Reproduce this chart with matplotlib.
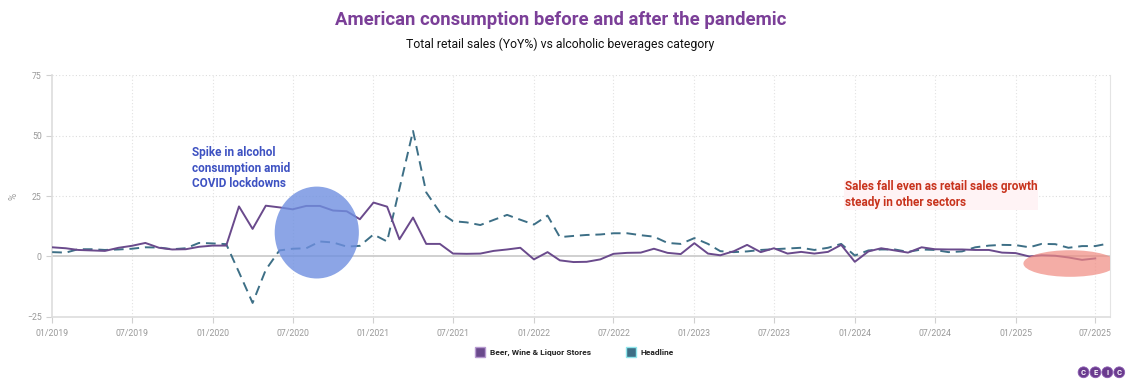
import numpy as np
import pandas as pd
import matplotlib
matplotlib.use("Agg")
from matplotlib import pyplot as plt
import matplotlib.dates as mdates
from matplotlib.patches import Ellipse

plt.rcParams['font.family'] = ['Roboto', 'DejaVu Sans']

#####################################################################################################
# Data (YoY %, monthly)

beer_wine = [3.8, 3.4, 2.7, 2.5, 2.3, 3.6, 4.4, 5.6, 3.6, 2.9, 3.0, 4.0,
             4.5, 4.5, 20.7, 11.4, 21.0, 20.3, 19.5, 20.9, 20.9, 19.0, 18.7, 15.4,
             22.3, 20.6, 7.1, 16.1, 5.2, 5.2, 1.2, 1.1, 1.2, 2.3, 2.9, 3.6,
             -1.2, 1.8, -1.6, -2.3, -2.2, -1.2, 1.1, 1.5, 1.6, 3.2, 1.5, 1.0,
             5.5, 1.2, 0.5, 2.2, 4.8, 1.8, 3.4, 1.2, 1.9, 1.2, 1.9, 4.8,
             -2.2, 2.1, 3.4, 2.5, 1.6, 3.8, 3.0, 2.9, 2.9, 2.7, 2.7, 1.6,
             1.4, 0.0, 0.5, 0.3, -0.4, -1.4, -0.8]

headline = [1.8, 1.6, 3.0, 3.0, 2.7, 2.9, 3.2, 3.8, 3.7, 3.0, 3.4, 5.6,
            5.4, 5.1, -6.5, -19.2, -5.5, 2.5, 3.2, 3.4, 6.2, 5.8, 4.1, 4.4,
            9.1, 6.2, 28.0, 51.9, 26.5, 18.3, 14.6, 14.1, 13.0, 15.1, 17.2, 15.2,
            13.2, 16.9, 8.0, 8.5, 8.9, 9.1, 9.6, 9.6, 8.8, 8.2, 5.6, 5.2,
            7.6, 5.2, 2.2, 1.8, 2.1, 2.7, 3.0, 3.3, 3.6, 2.7, 3.6, 5.2,
            0.4, 2.5, 2.9, 2.9, 1.9, 2.9, 2.7, 1.8, 2.1, 3.8, 4.5, 4.8,
            4.7, 3.8, 5.2, 5.1, 3.6, 4.3, 4.3, 5.4]

beer_dates = pd.date_range("2019-01-01", periods=len(beer_wine), freq="MS")
head_dates = pd.date_range("2019-01-01", periods=len(headline), freq="MS")

tick_dates = pd.date_range("2019-01-01", "2025-07-01", freq="6MS")
y_ticks = [-25, 0, 25, 50, 75]

#####################################################################################################
# Styles
purple = "#6a4a8c"
teal = "#3d6f86"

fig = plt.figure(figsize=(11.34, 3.87), dpi=100)
ax = fig.add_axes([0.046, 0.181, 0.933, 0.625])

ax.plot(head_dates, headline, color=teal, lw=1.4, ls=(0, (5, 3)), label="Headline", zorder=3)
ax.plot(beer_dates, beer_wine, color=purple, lw=1.4, label="Beer, Wine & Liquor Stores", zorder=4)

ax.set_ylim(-25, 75)
ax.set_xlim(pd.Timestamp("2019-01-01"), pd.Timestamp("2025-08-04"))
ax.set_yticks(y_ticks)
ax.set_xticks(tick_dates)
ax.xaxis.set_major_formatter(mdates.DateFormatter("%m/%Y"))
ax.tick_params(axis="both", labelsize=6.3, colors="#d0d0d0", labelcolor="#999999", length=4, width=0.8)
ax.tick_params(axis="x", pad=5)

for y in [25, 50, 75]:
    ax.axhline(y, color="#dddddd", lw=0.8, ls=(0, (1, 2)), zorder=1)
for d in tick_dates[1:]:
    ax.axvline(d, color="#e2e2e2", lw=0.8, ls=(0, (1, 2)), zorder=1)
ax.axhline(0, color="#c8c8c8", lw=1.2, zorder=2)

ax.spines["top"].set_visible(False)
ax.spines["right"].set_color("#e4e4e4")
ax.spines["left"].set_color("#dddddd")
ax.spines["bottom"].set_color("#dddddd")
ax.spines["left"].set_linewidth(1.2)
ax.spines["bottom"].set_linewidth(1.2)

ax.set_ylabel("%", fontsize=7, color="#9a9a9a", labelpad=6)

# highlights
blue_c = Ellipse((mdates.date2num(pd.Timestamp("2020-08-25")), 9.9),
                 width=6.3 * 30.4, height=38, facecolor="#6f8fe0", alpha=0.8,
                 edgecolor="none", zorder=5)
ax.add_patch(blue_c)
red_c = Ellipse((mdates.date2num(pd.Timestamp("2025-05-05")), -2.9),
                width=7.0 * 30.4, height=11, facecolor="#f08a80", alpha=0.7,
                edgecolor="none", zorder=5)
ax.add_patch(red_c)

ax.text(pd.Timestamp("2019-11-15"), 45.5, "Spike in alcohol\nconsumption amid\nCOVID lockdowns",
        fontsize=8.5, fontweight="bold", color="#3e52c2", va="top", ha="left", linespacing=1.25)
ax.text(pd.Timestamp("2023-12-10"), 31.5, "Sales fall even as retail sales growth\nsteady in other sectors",
        fontsize=8.5, fontweight="bold", color="#c8321c", va="top", ha="left", linespacing=1.25,
        bbox=dict(facecolor="#fff3f5", edgecolor="none", pad=0.5))

fig.text(0.494, 0.948, "American consumption before and after the pandemic", ha="center", va="center",
         fontsize=13.3, fontweight="bold", color="#7b3f98")
fig.text(0.494, 0.885, "Total retail sales (YoY%) vs alcoholic beverages category", ha="center", va="center",
         fontsize=8.8, color="#111111")

# legend
handles = [plt.Line2D([], [], ls="none", marker="s", markersize=7, markerfacecolor=purple,
                      markeredgecolor="#b79ad0"),
           plt.Line2D([], [], ls="none", marker="s", markersize=7, markerfacecolor=teal,
                      markeredgecolor="#8fe6ec")]
leg = fig.legend(handles, ["Beer, Wine & Liquor Stores", "Headline"], loc="center",
                 bbox_to_anchor=(0.505, 0.09), ncol=2, frameon=False, fontsize=6,
                 handletextpad=0.2, columnspacing=3.8)
for t in leg.get_texts():
    t.set_fontweight("bold")
    t.set_color("#222222")

# logo
for i, ch in enumerate("CEIC"):
    x = 0.9555 + i * 0.0105
    fig.text(x, 0.038, ch, ha="center", va="center", fontsize=5.5, fontweight="bold", color="white",
             bbox=dict(boxstyle="circle,pad=0.25", facecolor="#6a3b8e", edgecolor="#8a5bb0", lw=0.6))

plt.savefig("out.png", dpi=100)
